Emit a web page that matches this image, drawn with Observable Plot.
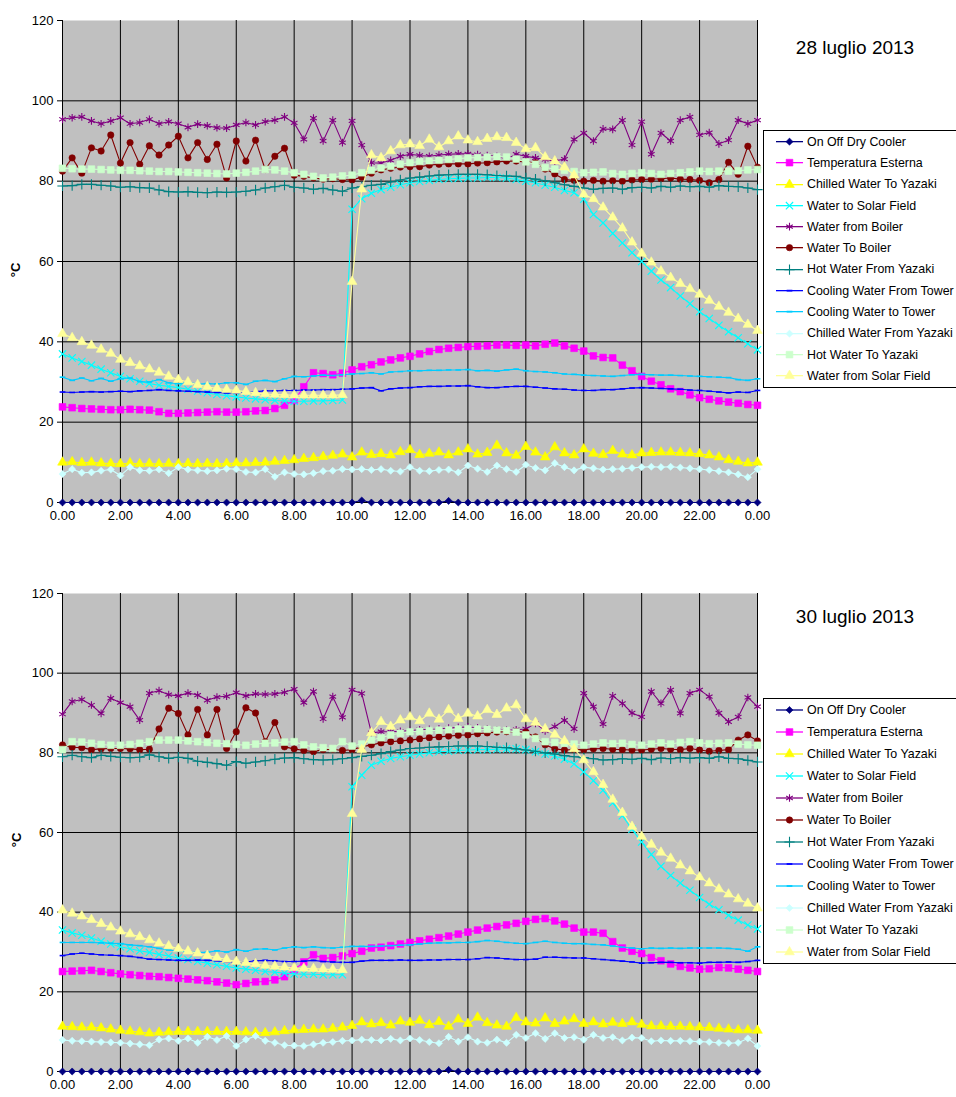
<!DOCTYPE html>
<html><head><meta charset="utf-8">
<script src="https://cdn.jsdelivr.net/npm/d3@7"></script>
<script src="https://cdn.jsdelivr.net/npm/@observablehq/plot@0.6"></script>
<style>
body{margin:0;background:#fff;font-family:"Liberation Sans",Arial,sans-serif;}
#wrap{position:relative;width:956px;height:1097px;overflow:hidden;background:#fff;}
.panel{position:absolute;left:0;}
.legend{position:absolute;left:763px;border:1px solid #000;background:#fff;width:200px;box-sizing:border-box;}
.legend .row{display:flex;align-items:center;font-size:12.4px;white-space:nowrap;color:#000;}
.legend svg{flex:none;}
.title{position:absolute;font-size:19px;transform:translate(-50%,-50%);white-space:nowrap;color:#000;}
.ylab{position:absolute;font-weight:bold;font-size:13px;transform:translate(-50%,-50%) rotate(-90deg);white-space:nowrap;}
</style></head><body><div id="wrap"></div><script>
// ---- time axis (minutes from midnight, 20-minute samples) ----
const times = [0,20,40,60,80,100,120,140,160,180,200,220,
240,260,280,300,320,340,360,380,400,420,440,460,
480,500,520,540,560,580,600,620,640,660,680,700,
720,740,760,780,800,820,840,860,880,900,920,940,
960,980,1000,1020,1040,1060,1080,1100,1120,1140,1160,1180,
1200,1220,1240,1260,1280,1300,1320,1340,1360,1380,1400,1420,
1440];
const tickMinutes = [0,120,240,360,480,600,720,840,960,1080,1200,1320,1440];
const yTicks = [0,20,40,60,80,100,120];

const seriesNames = ["On Off Dry Cooler","Temperatura Esterna","Chilled Water To Yazaki","Water to Solar Field","Water from Boiler","Water To Boiler","Hot Water From Yazaki","Cooling Water From Tower","Cooling Water to Tower","Chilled Water From Yazaki","Hot Water To Yazaki","Water from Solar Field"];
const seriesColors = ["#000080","#FF00FF","#FFFF00","#00FFFF","#800080","#800000","#008080","#0000FF","#00CCFF","#CCFFFF","#CCFFCC","#FFFF99"];
const seriesMarkers = ["diamond","square","triangle","times","asterisk","circle","plus","dash","dash","diamond","square","triangle"];

const panelTitles = ["28 luglio 2013","30 luglio 2013"];

// ---------------- 28 luglio 2013 ----------------
const jul28OnOffDryCooler = [0,0,0,0,0,0,0,0,0,0,0,0,
0,0,0,0,0,0,0,0,0,0,0,0,
0,0,0,0,0,0,0,0.5,0,0,0,0,
0,0,0,0,0.4,0,0,0,0,0,0,0,
0,0,0,0,0,0,0,0,0,0,0,0,
0,0,0,0,0,0,0,0,0,0,0,0,
0];
const jul28TemperaturaEsterna = [23.8,23.6,23.4,23.3,23.2,23.1,23.1,23.2,23.1,23.0,22.6,22.2,
22.2,22.3,22.4,22.5,22.6,22.5,22.5,22.6,22.8,22.9,23.4,24.2,
25.4,28.8,32.3,32.1,31.8,32.2,33.0,33.8,34.3,35.0,35.5,36.0,
36.4,37.0,37.6,38.1,38.4,38.6,38.8,38.9,39.0,39.2,39.2,39.1,
39.2,39.0,39.4,39.7,39.0,38.4,37.7,36.5,36.1,36.0,34.2,32.8,
31.4,30.2,29.3,28.3,27.6,26.8,26.1,25.7,25.3,25.0,24.7,24.4,
24.2];
const jul28ChilledWaterToYazaki = [10.0,10.1,9.9,10.0,9.8,9.7,9.6,9.8,9.6,9.7,9.6,9.7,
9.6,9.7,9.6,9.7,9.6,9.7,9.8,9.8,9.9,10.0,10.2,10.4,
10.6,10.9,11.1,11.4,11.7,12.0,11.3,12.5,11.9,12.1,11.8,12.6,
13.1,11.9,12.2,12.5,11.8,12.5,13.3,12.0,12.4,14.2,12.3,11.7,
13.9,12.5,11.3,13.8,12.3,11.8,13.3,12.2,11.9,12.9,12.0,11.8,
12.3,12.4,12.5,12.5,12.4,12.3,12.1,11.8,11.3,10.6,10.2,9.8,
10.0];
const jul28WaterToSolarField = [37.0,36.0,35.1,34.2,33.2,32.3,31.4,30.8,30.2,29.6,29.2,28.9,
28.6,28.2,27.7,27.3,26.9,26.6,26.3,26.0,25.8,25.6,25.4,25.3,
25.2,25.2,25.3,25.3,25.4,25.5,73.0,75.6,77.0,77.9,78.5,79.1,
79.6,79.9,80.2,80.4,80.6,80.7,80.8,80.8,80.9,80.9,80.8,80.4,
80.0,79.6,79.0,78.5,77.7,77.1,75.5,71.7,69.6,67.0,64.6,62.2,
60.0,57.6,55.4,53.5,51.4,49.5,47.5,45.8,44.1,42.5,41.0,39.5,
38.0];
const jul28WaterFromBoiler = [95.4,95.8,96.0,95.0,94.3,95.0,95.8,94.3,94.6,95.4,94.3,94.8,
94.3,93.4,94.2,93.8,93.3,93.2,94.0,94.6,94.0,94.8,95.2,96.0,
94.5,90.4,95.7,90.0,95.2,89.6,95.0,89.0,84.6,84.5,85.2,86.2,
86.7,86.4,86.2,86.5,86.7,86.8,86.8,86.6,86.4,86.2,85.5,86.7,
86.2,85.8,85.4,85.0,85.5,90.4,92.0,90.0,93.0,92.9,95.2,89.0,
94.8,86.7,92.0,90.0,95.2,96.0,91.5,92.1,89.3,90.2,95.2,94.3,
95.2];
const jul28WaterToBoiler = [82.5,85.8,82.0,88.3,87.5,91.5,84.5,89.6,84.2,88.8,86.5,89.0,
91.2,85.8,89.6,85.4,89.2,80.8,90.0,85.0,90.2,82.9,86.2,88.2,
81.5,81.2,80.8,80.5,80.6,80.4,80.3,81.0,82.0,82.8,83.2,83.5,
83.6,83.6,84.0,84.2,84.3,84.3,84.3,84.5,84.6,84.8,85.0,85.0,
84.8,84.6,83.0,81.8,80.4,80.2,80.0,80.2,80.0,80.1,80.0,80.3,
80.4,80.5,80.6,80.8,80.5,80.4,80.2,79.6,80.4,84.7,81.7,88.7,
83.5];
const jul28HotWaterFromYazaki = [78.8,78.9,79.2,79.2,79.0,78.8,78.5,78.6,78.4,78.3,77.8,77.4,
77.3,77.4,77.2,77.1,77.3,77.2,77.3,77.5,77.8,78.3,78.6,79.0,
78.5,78.3,78.0,78.2,77.8,77.5,78.3,78.6,79.0,79.2,79.8,80.3,
80.8,81.0,81.3,81.5,81.6,81.7,81.7,81.7,81.6,81.4,81.3,81.2,
80.8,80.5,80.1,79.6,79.1,78.7,78.3,78.0,78.2,78.3,78.0,78.4,
78.5,78.3,78.7,78.5,78.8,78.6,78.7,78.5,78.9,78.7,78.6,78.3,
77.9];
const jul28CoolingWaterFromTower = [27.5,27.4,27.5,27.6,27.5,27.6,27.7,27.6,27.8,27.9,28.1,27.9,
27.8,27.7,27.6,27.5,27.4,27.3,27.3,27.4,27.6,27.8,27.8,27.9,
27.9,28.0,28.0,28.1,28.1,28.2,28.3,28.5,28.6,27.8,28.3,28.5,
28.6,28.8,28.9,28.9,29.0,29.0,29.1,28.8,28.6,28.6,28.8,28.9,
28.9,28.7,28.5,28.3,28.2,28.0,27.9,27.9,28.1,28.1,28.3,28.5,
28.6,28.5,28.4,28.3,28.2,28.0,27.9,27.7,27.5,27.3,27.5,27.4,
27.9];
const jul28CoolingWaterToTower = [31.2,30.4,31.0,30.3,30.9,30.2,30.8,31.0,30.1,30.0,30.6,29.8,
29.6,29.9,29.5,29.6,29.5,29.8,29.8,29.4,30.2,30.4,30.1,30.8,
31.4,31.3,31.5,31.7,31.6,31.8,32.0,32.1,32.3,32.0,32.5,32.6,
32.8,32.8,32.9,32.9,33.0,33.0,33.1,32.8,32.9,32.7,33.0,33.2,
32.8,32.6,32.5,32.3,32.0,31.9,31.7,31.6,31.5,31.4,31.6,31.8,
31.9,31.8,31.7,31.7,31.6,31.5,31.4,31.3,31.2,31.1,30.6,30.4,
30.8];
const jul28ChilledWaterFromYazaki = [7.1,8.3,7.4,7.5,7.9,8.2,6.7,8.8,8.0,7.9,8.2,7.3,
8.8,8.2,8.0,7.8,8.0,8.4,8.3,7.6,7.5,8.3,6.4,7.5,
7.1,7.0,7.3,7.8,7.9,8.3,8.2,8.3,8.1,8.3,7.9,7.7,
8.8,7.9,7.8,8.1,8.2,7.5,9.2,8.4,7.6,9.2,8.3,7.6,
9.4,8.6,8.0,9.8,8.8,8.0,8.8,8.5,8.2,8.3,8.4,8.6,
8.8,8.9,8.8,8.9,8.7,8.5,8.3,8.1,7.8,7.5,7.0,6.3,
8.3];
const jul28HotWaterToYazaki = [83.2,83.1,83.0,83.0,82.9,82.8,82.7,82.7,82.6,82.5,82.4,82.4,
82.3,82.2,82.1,82.0,81.9,81.8,82.0,82.2,82.5,82.9,82.8,82.5,
82.1,81.7,81.2,80.8,81.0,81.3,81.5,82.1,82.7,83.3,83.7,84.2,
84.6,84.9,85.1,85.2,85.4,85.6,85.8,85.9,86.0,86.1,86.0,85.5,
84.8,84.2,83.4,83.0,82.7,82.4,82.1,82.2,82.3,81.9,81.7,81.9,
82.1,81.9,81.7,81.9,82.1,82.3,82.5,82.4,82.5,82.5,82.6,82.8,
82.9];
const jul28WaterFromSolarField = [42.0,41.0,40.0,39.1,38.1,37.1,35.6,34.8,34.0,33.2,32.4,31.4,
30.6,30.0,29.3,28.8,28.4,28.1,27.9,27.6,27.3,27.0,26.9,26.8,
26.7,26.7,26.7,26.7,26.7,26.8,55.0,78.0,86.5,85.8,87.5,89.0,
89.2,88.8,90.4,88.5,90.0,91.2,90.2,89.8,90.6,91.0,90.8,89.6,
88.0,88.3,86.0,85.0,83.5,81.5,76.7,75.6,73.5,71.0,68.3,64.8,
62.0,59.8,57.6,56.0,54.5,53.2,51.8,50.3,48.8,47.3,45.8,44.3,
42.8];

// ---------------- 30 luglio 2013 ----------------
const jul30OnOffDryCooler = [0,0,0,0,0,0,0,0,0,0,0,0,
0,0,0,0,0,0,0,0,0,0,0,0,
0,0,0,0,0,0,0,0,0,0,0,0,
0,0,0,0,0.4,0,0,0,0,0,0,0,
0,0,0,0,0,0,0,0,0,0,0,0,
0,0,0,0,0,0,0,0,0,0,0,0,
0];
const jul30TemperaturaEsterna = [25.1,25.2,25.3,25.4,25.1,24.8,24.5,24.3,24.1,23.9,23.8,23.6,
23.4,23.2,23.0,22.8,22.5,22.2,21.8,22.1,22.5,22.6,23.0,23.8,
25.5,27.5,29.3,28.4,28.6,29.0,29.6,30.2,31.0,31.2,31.6,32.0,
32.4,32.8,33.2,33.6,34.0,34.5,35.0,35.5,36.0,36.4,36.8,37.2,
37.7,38.2,38.4,37.8,37.0,36.0,35.0,35.0,34.7,32.6,31.0,30.2,
29.6,28.6,27.8,27.0,26.4,26.0,25.7,25.8,26.1,26.0,25.7,25.4,
25.1];
const jul30ChilledWaterToYazaki = [11.3,11.2,11.1,11.1,10.9,10.6,10.3,10.1,9.9,9.6,9.8,9.9,
10.0,10.0,10.0,10.0,10.0,10.0,10.0,9.9,9.8,9.7,9.9,10.2,
10.4,10.5,10.6,10.6,10.8,11.1,11.5,12.4,11.9,12.2,11.6,12.6,
12.3,12.8,11.7,12.5,11.3,13.1,12.0,13.6,12.2,11.6,11.3,13.5,
12.4,12.1,13.4,12.0,12.6,13.2,12.0,12.4,11.9,12.3,12.0,12.4,
11.8,11.4,11.4,11.3,11.3,11.2,11.1,11.0,10.8,10.6,10.4,10.4,
10.3];
const jul30WaterToSolarField = [35.5,34.8,34.2,33.5,32.7,32.0,31.3,30.8,30.3,29.9,29.4,29.0,
28.5,28.1,27.6,27.2,26.8,26.4,26.0,25.7,25.4,25.1,24.9,24.7,
24.5,24.4,24.4,24.3,24.3,24.3,71.5,74.4,76.9,77.9,78.6,79.0,
79.4,79.7,80.0,80.3,80.4,80.6,80.7,80.8,80.8,80.9,81.0,81.0,
80.8,80.3,79.7,79.2,78.4,77.2,75.2,73.0,70.6,67.4,64.2,60.8,
57.6,54.5,51.5,49.2,47.3,45.5,43.7,42.0,40.6,39.2,38.0,36.8,
35.8];
const jul30WaterFromBoiler = [89.7,92.9,93.4,92.0,89.9,93.7,92.6,91.6,88.2,95.0,95.6,94.6,
94.3,95.0,94.5,93.2,94.0,94.2,95.1,94.3,94.8,94.7,94.8,95.2,
96.0,92.6,95.4,88.5,94.1,88.9,95.8,94.9,85.0,85.3,85.3,85.4,
85.6,85.8,85.9,86.0,86.2,86.4,86.5,86.3,86.0,85.7,85.7,85.8,
86.0,87.4,85.5,86.6,88.2,86.0,95.0,91.6,87.2,94.3,92.4,90.0,
89.0,95.4,92.4,95.8,89.9,95.0,95.8,94.1,90.0,87.8,89.0,93.9,
91.6];
const jul30WaterToBoiler = [82.0,81.4,81.3,80.8,81.0,81.1,81.1,81.0,80.8,80.9,86.0,91.2,
89.9,84.5,90.9,84.5,90.9,81.1,85.3,91.3,90.0,82.8,87.6,81.5,
81.0,80.6,80.3,80.8,80.9,80.6,80.8,81.5,82.0,82.5,82.8,83.0,
83.2,83.5,83.8,84.0,84.2,84.4,84.5,84.8,85.0,85.2,85.3,85.3,
85.2,84.0,82.0,81.0,80.7,80.8,80.8,81.0,81.1,80.9,80.8,80.7,
80.7,80.9,81.1,80.9,80.8,81.1,80.7,80.4,80.6,80.8,83.2,84.5,
83.0];
const jul30HotWaterFromYazaki = [79.0,79.4,79.0,78.8,79.4,79.1,78.9,78.8,78.9,79.5,79.0,78.6,
78.9,78.6,77.9,77.6,77.3,76.9,77.8,77.4,77.7,78.0,78.4,78.7,
78.8,78.5,78.3,78.2,78.3,78.5,78.8,79.1,79.4,79.8,80.3,80.7,
81.1,81.2,81.4,81.5,81.6,81.7,81.7,81.7,81.6,81.4,81.3,81.0,
80.7,80.4,80.0,79.7,79.3,79.0,78.8,78.5,78.2,78.3,78.5,78.4,
78.6,78.3,78.7,78.5,78.8,78.6,78.8,78.6,79.0,78.6,78.5,78.1,
77.7];
const jul30CoolingWaterFromTower = [29.1,29.5,29.7,29.5,29.3,29.2,29.1,28.9,28.6,28.2,28.1,28.0,
27.9,27.9,28.0,27.9,27.8,27.5,27.2,27.5,27.8,27.9,27.8,27.6,
27.6,27.7,27.9,27.6,27.5,27.4,27.4,27.7,27.9,27.9,27.9,28.0,
27.9,27.9,28.0,28.0,28.1,28.1,28.1,28.3,28.6,28.5,28.3,28.1,
28.1,28.2,28.7,28.7,28.6,28.5,28.5,28.3,28.1,27.9,27.7,27.5,
27.2,27.3,27.4,27.4,27.3,27.3,27.2,27.4,27.4,27.5,27.4,27.6,
27.9];
const jul30CoolingWaterToTower = [32.4,32.4,32.4,32.4,32.3,32.2,32.1,31.8,31.6,31.3,30.9,30.5,
30.2,30.0,29.9,29.9,30.3,30.0,30.6,30.2,30.7,30.8,30.5,31.0,
31.3,31.1,31.3,31.1,31.0,31.2,31.4,31.4,31.4,31.5,31.6,31.7,
31.8,32.0,32.2,32.3,32.3,32.4,32.4,32.6,32.9,32.7,32.4,32.2,
32.1,32.4,32.7,32.4,32.2,32.1,32.1,31.9,31.8,31.5,31.2,31.0,
30.8,31.0,30.9,31.0,30.9,31.0,31.0,31.0,31.0,30.9,30.7,30.2,
31.3];
const jul30ChilledWaterFromYazaki = [7.9,7.7,7.6,7.5,7.4,7.3,7.2,7.0,6.8,6.6,8.0,8.3,
7.7,8.3,7.2,8.7,7.9,8.9,6.4,8.0,8.9,7.7,7.2,6.6,
6.5,6.4,6.8,7.2,7.4,7.7,7.8,8.0,7.9,7.8,8.2,7.8,
8.3,7.9,7.4,7.1,8.7,7.5,8.6,7.5,7.2,8.0,7.2,9.2,
8.4,9.6,8.2,9.6,8.4,8.6,8.0,9.2,8.4,8.6,7.8,8.5,
8.4,7.6,7.8,7.7,7.7,7.6,7.5,7.4,7.2,7.1,7.2,8.3,
6.4];
const jul30HotWaterToYazaki = [80.8,82.8,82.7,82.4,82.1,81.9,81.9,82.1,82.4,82.8,83.2,83.2,
83.2,83.0,82.8,82.6,82.4,82.3,82.1,81.9,82.2,82.4,82.5,82.7,
82.8,82.0,81.5,81.3,81.1,82.8,81.7,82.2,83.2,83.8,84.5,84.9,
85.3,85.4,85.6,85.7,85.8,86.0,86.1,86.0,85.9,85.7,85.6,85.2,
84.5,83.6,82.8,82.6,82.4,82.2,81.9,82.2,82.5,82.3,82.4,82.1,
81.9,82.2,82.5,82.2,82.6,82.8,82.5,82.3,82.4,82.5,82.2,82.0,
81.9];
const jul30WaterFromSolarField = [40.5,39.7,39.0,38.1,37.1,36.2,35.2,34.5,33.8,33.0,32.2,31.5,
30.8,30.2,29.7,29.1,28.6,28.1,27.6,27.3,27.0,26.6,26.4,26.2,
26.0,25.9,25.8,25.7,25.6,25.5,64.7,80.8,85.0,87.8,86.6,88.2,
89.0,88.0,89.9,88.4,90.8,88.6,89.9,89.2,90.8,89.6,91.2,92.0,
88.5,87.6,86.0,84.6,83.0,81.0,78.2,75.2,72.0,68.3,65.0,61.5,
59.0,57.0,55.0,53.5,51.8,50.3,48.8,47.3,45.8,44.5,43.3,42.2,
41.0];

const jul28Values = [jul28OnOffDryCooler, jul28TemperaturaEsterna, jul28ChilledWaterToYazaki, jul28WaterToSolarField, jul28WaterFromBoiler, jul28WaterToBoiler, jul28HotWaterFromYazaki, jul28CoolingWaterFromTower, jul28CoolingWaterToTower, jul28ChilledWaterFromYazaki, jul28HotWaterToYazaki, jul28WaterFromSolarField];
const jul30Values = [jul30OnOffDryCooler, jul30TemperaturaEsterna, jul30ChilledWaterToYazaki, jul30WaterToSolarField, jul30WaterFromBoiler, jul30WaterToBoiler, jul30HotWaterFromYazaki, jul30CoolingWaterFromTower, jul30CoolingWaterToTower, jul30ChilledWaterFromYazaki, jul30HotWaterToYazaki, jul30WaterFromSolarField];

// ---------------- drawing ----------------
const dashSymbol = {draw(ctx, size){ const w = Math.sqrt(size) * 0.62; ctx.moveTo(-w, 0); ctx.lineTo(w, 0); }};
const markerStyle = {
  diamond:  {plot: "diamond2", d3: d3.symbolDiamond2, r: 3.2, filled: true},
  square:   {plot: "square", d3: d3.symbolSquare, r: 3.8, filled: true},
  triangle: {plot: "triangle", d3: d3.symbolTriangle, r: 3.6, filled: true},
  circle:   {plot: "circle", d3: d3.symbolCircle, r: 3.2, filled: true},
  times:    {plot: "times", d3: d3.symbolTimes, r: 3.4, filled: false},
  asterisk: {plot: "asterisk", d3: d3.symbolAsterisk, r: 3.6, filled: false},
  plus:     {plot: "plus", d3: d3.symbolPlus, r: 3.4, filled: false},
  dash:     {plot: dashSymbol, d3: dashSymbol, r: 2.6, filled: false}
};
const fontFamily = '"Liberation Sans", Arial, Helvetica, sans-serif';
const wrap = document.getElementById("wrap");

function drawPanel(values, top, height, marginBottom) {
  const marks = [
    Plot.frame({fill: "#C0C0C0", stroke: "none"}),
    Plot.ruleY([20, 40, 60, 80, 100], {stroke: "#000", strokeWidth: 1}),
    Plot.ruleX(tickMinutes.slice(1), {stroke: "#000", strokeWidth: 1}),
    Plot.ruleX([0], {stroke: "#000", strokeWidth: 1}),
    Plot.ruleY([0], {stroke: "#000", strokeWidth: 1})
  ];
  seriesNames.forEach((name, s) => {
    const pts = times.map((t, i) => ({t, v: values[s][i]}));
    const color = seriesColors[s];
    const m = markerStyle[seriesMarkers[s]];
    marks.push(Plot.line(pts, {x: "t", y: "v", stroke: color, strokeWidth: 1.1}));
    marks.push(Plot.dot(pts, {
      x: "t", y: "v", symbol: m.plot, r: m.r,
      fill: m.filled ? color : "none",
      stroke: color,
      strokeWidth: m.filled ? 0.6 : (seriesMarkers[s] === "dash" ? 1.6 : 1.1)
    }));
  });
  const svg = Plot.plot({
    width: 956, height,
    marginLeft: 62, marginRight: 199, marginTop: 20, marginBottom,
    style: {fontFamily, fontSize: "13px", color: "#000", background: "transparent", overflow: "visible"},
    x: {domain: [0, 1440], ticks: tickMinutes, tickFormat: m => ((m / 60) % 24).toFixed(2), tickSize: 4, tickPadding: 4, label: null},
    y: {domain: [0, 120], ticks: yTicks, tickSize: 5, tickPadding: 4, label: null},
    marks
  });
  svg.classList.add("panel");
  svg.style.top = top + "px";
  wrap.appendChild(svg);
}

function drawLegend(top, rowH) {
  const box = document.createElement("div");
  box.className = "legend";
  box.style.top = top + "px";
  box.style.height = (rowH * 12 + 2) + "px";
  seriesNames.forEach((name, s) => {
    const row = document.createElement("div");
    row.className = "row";
    row.style.height = rowH + "px";
    const color = seriesColors[s];
    const m = markerStyle[seriesMarkers[s]];
    const sw = d3.create("svg").attr("width", 43).attr("height", rowH);
    sw.append("line").attr("x1", 12).attr("x2", 39).attr("y1", rowH / 2).attr("y2", rowH / 2)
      .attr("stroke", color).attr("stroke-width", 1.3);
    sw.append("path").attr("d", d3.symbol(m.d3, Math.PI * m.r * m.r)())
      .attr("transform", `translate(25.5,${rowH / 2})`)
      .attr("fill", m.filled ? color : "none").attr("stroke", color)
      .attr("stroke-width", m.filled ? 0.6 : (seriesMarkers[s] === "dash" ? 1.8 : 1.1));
    row.appendChild(sw.node());
    const label = document.createElement("span");
    label.textContent = name;
    row.appendChild(label);
    box.appendChild(row);
  });
  wrap.appendChild(box);
}

function addText(cls, text, x, y) {
  const d = document.createElement("div");
  d.className = cls;
  d.textContent = text;
  d.style.left = x + "px";
  d.style.top = y + "px";
  wrap.appendChild(d);
}

drawPanel(jul28Values, 0, 532, 30);
drawPanel(jul30Values, 573, 528, 30);
drawLegend(130, 21.3);
drawLegend(698, 22);
addText("title", panelTitles[0], 855, 48);
addText("title", panelTitles[1], 855, 617);
addText("ylab", "°C", 15, 270);
addText("ylab", "°C", 16, 840);
</script></body></html>
